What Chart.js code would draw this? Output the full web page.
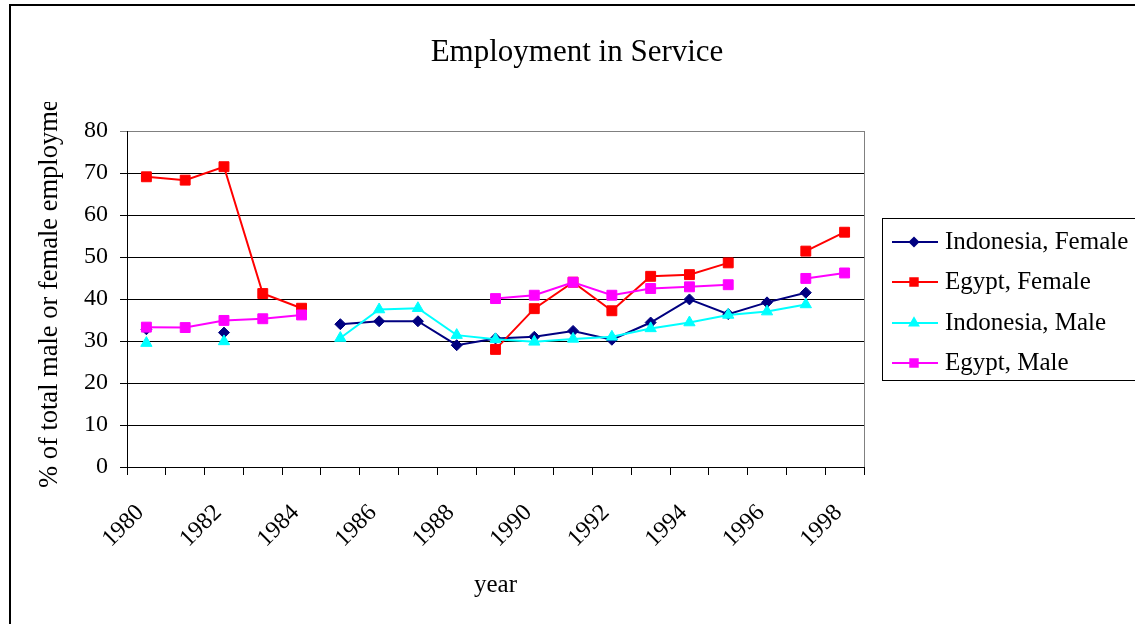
<!DOCTYPE html>
<html>
<head>
<meta charset="utf-8">
<script src="https://cdn.jsdelivr.net/npm/chart.js@4/dist/chart.umd.min.js"></script>
<style>
  html, body { margin: 0; padding: 0; background: #fff; }
  #wrap { width: 1135px; height: 624px; }
</style>
</head>
<body>
<div id="wrap"><canvas id="c"></canvas></div>
<script>
// values, null = no data that year
const years = ['1980','1981','1982','1983','1984','1985','1986','1987','1988','1989',
  '1990','1991','1992','1993','1994','1995','1996','1997','1998'];
const indonesiaFemale = [32.8, null, 32.0, null, null, 34.0, 34.7, 34.7, 29.0, 30.6,
  31.0, 32.4, 30.3, 34.4, 39.9, 36.4, 39.2, 41.5, null];
const egyptFemale = [69.1, 68.3, 71.5, 41.3, 37.8, null, null, null, null, 28.0,
  37.7, 44.0, 37.2, 45.4, 45.8, 48.6, null, 51.4, 55.9];
const indonesiaMale = [29.5, null, 29.9, null, null, 30.7, 37.5, 37.8, 31.4, 30.4,
  29.8, 30.5, 31.0, 33.0, 34.4, 36.2, 37.0, 38.7, null];
const egyptMale = [33.3, 33.2, 34.9, 35.3, 36.2, null, null, null, null, 40.1,
  40.9, 44.0, 40.9, 42.5, 42.9, 43.4, null, 44.9, 46.2];
const yTicks = [0, 10, 20, 30, 40, 50, 60, 70, 80];

const FONT = "'Liberation Serif', 'Times New Roman', serif";

const series = [
  { label: 'Indonesia, Female', data: indonesiaFemale, color: '#000080', style: 'rectRot', r: 5.5 },
  { label: 'Egypt, Female', data: egyptFemale, color: '#ff0000', style: 'rect', r: 7 },
  { label: 'Indonesia, Male', data: indonesiaMale, color: '#00ffff', style: 'triangle', r: 6.5 },
  { label: 'Egypt, Male', data: egyptMale, color: '#ff00ff', style: 'rect', r: 7 },
];

// frame, title, rotated y title (cut off like the original) and legend box
const decor = {
  id: 'decor',
  afterDraw(chart) {
    const { ctx, chartArea: a } = chart;
    ctx.save();
    // plot area right edge
    ctx.strokeStyle = '#808080';
    ctx.lineWidth = 1;
    ctx.beginPath();
    ctx.moveTo(Math.round(a.right) + 0.5, a.top);
    ctx.lineTo(Math.round(a.right) + 0.5, a.bottom);
    ctx.stroke();

    // outer frame
    ctx.strokeStyle = '#000';
    ctx.lineWidth = 2;
    ctx.strokeRect(10, 5, 2000, 2000);

    // title
    ctx.fillStyle = '#000';
    ctx.font = `31px ${FONT}`;
    ctx.textAlign = 'center';
    ctx.textBaseline = 'alphabetic';
    ctx.fillText('Employment in Service', 577, 61);

    // y title, clipped at the top
    ctx.save();
    ctx.beginPath();
    ctx.rect(0, 102, 120, 500);
    ctx.clip();
    ctx.translate(57, 488);
    ctx.rotate(-Math.PI / 2);
    ctx.font = `26.5px ${FONT}`;
    ctx.textAlign = 'left';
    ctx.fillText('% of total male or female employment', 0, 0);
    ctx.restore();

    // legend
    ctx.strokeStyle = '#000';
    ctx.lineWidth = 1;
    ctx.strokeRect(882.5, 218.5, 400, 162);
    ctx.font = `25px ${FONT}`;
    ctx.textAlign = 'left';
    ctx.textBaseline = 'middle';
    const rows = [242, 282, 323, 363];
    series.forEach((s, i) => {
      const y = rows[i];
      ctx.strokeStyle = s.color;
      ctx.lineWidth = 2;
      ctx.beginPath();
      ctx.moveTo(892, y);
      ctx.lineTo(938, y);
      ctx.stroke();
      ctx.fillStyle = s.color;
      Chart.helpers.drawPoint(ctx, { pointStyle: s.style, radius: s.r * 0.75, borderWidth: 1 }, 914, y);
      ctx.fillStyle = '#000';
      ctx.fillText(s.label, 945, y);
    });
    ctx.restore();
  }
};

new Chart(document.getElementById('c'), {
  type: 'line',
  data: {
    labels: years,
    datasets: series.map((s, i) => ({
      label: s.label,
      data: s.data,
      borderColor: s.color,
      backgroundColor: s.color,
      borderWidth: 2,
      pointStyle: s.style,
      pointRadius: s.r,
      pointBorderWidth: 1,
      spanGaps: false,
      tension: 0,
      order: series.length - i,
    })),
  },
  options: {
    responsive: true,
    maintainAspectRatio: false,
    animation: false,
    layout: { padding: { top: 131, right: 271, bottom: 0, left: 0 } },
    plugins: {
      legend: { display: false },
      title: { display: false },
      tooltip: { enabled: false },
    },
    scales: {
      x: {
        offset: true,
        afterFit: (s) => { s.height = 157; },
        grid: { offset: true, drawOnChartArea: false, tickLength: 8, color: '#000' },
        border: { color: '#000', width: 1 },
        ticks: {
          autoSkip: false,
          maxRotation: 45,
          minRotation: 45,
          padding: 24,
          labelOffset: -6,
          color: '#000',
          font: { family: FONT, size: 24 },
          callback: (v, i) => (i % 2 === 0 ? years[i] : ''),
        },
        title: {
          display: true,
          text: 'year',
          color: '#000',
          font: { family: FONT, size: 25 },
          padding: { top: 0, bottom: 24 },
        },
      },
      y: {
        min: 0,
        max: 80,
        afterFit: (s) => { s.width = 127; },
        afterBuildTicks: (s) => { s.ticks = yTicks.map((v) => ({ value: v })); },
        grid: {
          tickLength: 7,
          color: (c) => (c.tick && c.tick.value === 80 ? '#808080' : '#000'),
        },
        border: { color: '#000', width: 1 },
        ticks: {
          padding: 12,
          color: '#000',
          font: { family: FONT, size: 24 },
        },
      },
    },
  },
  plugins: [decor],
});
</script>
</body>
</html>
